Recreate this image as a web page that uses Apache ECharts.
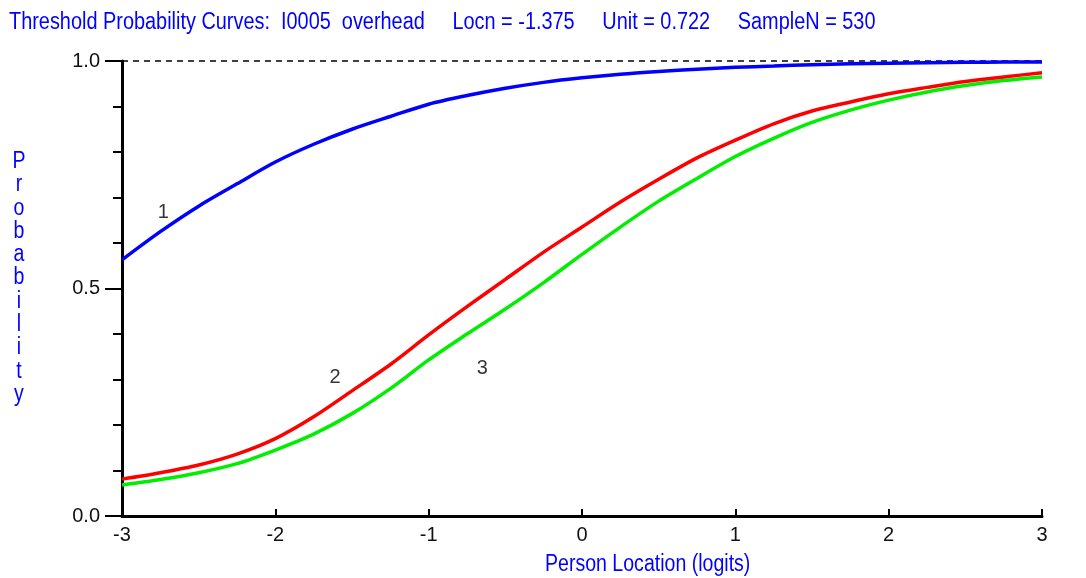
<!DOCTYPE html>
<html>
<head>
<meta charset="utf-8">
<script src="https://cdn.jsdelivr.net/npm/echarts@6/dist/echarts.min.js"></script>
<style>
html,body{margin:0;padding:0;background:#fff;}
#c{width:1086px;height:578px;}
</style>
</head>
<body>
<div id="c"></div>
<script>
// ---- data ----
var titleText = 'Threshold Probability Curves:  I0005  overhead     Locn = -1.375     Unit = 0.722     SampleN = 530';
var xLabel = 'Person Location (logits)';
var yLabel = 'Probability';
var locations = [-3,-2.75,-2.5,-2.25,-2,-1.75,-1.5,-1.25,-1,-0.75,-0.5,-0.25,0,0.25,0.5,0.75,1,1.25,1.5,1.75,2,2.25,2.5,2.75,3];
var curve1 = [0.563,0.625,0.681,0.730,0.778,0.817,0.850,0.878,0.905,0.924,0.940,0.953,0.963,0.971,0.977,0.982,0.986,0.989,0.992,0.994,0.995,0.996,0.997,0.998,0.998];
var curve2 = [0.081,0.095,0.112,0.136,0.170,0.218,0.275,0.333,0.398,0.460,0.520,0.580,0.635,0.690,0.740,0.787,0.826,0.862,0.890,0.910,0.928,0.942,0.955,0.965,0.974];
var curve3 = [0.068,0.080,0.095,0.115,0.145,0.180,0.225,0.280,0.343,0.400,0.455,0.513,0.575,0.635,0.692,0.742,0.790,0.830,0.865,0.892,0.914,0.932,0.946,0.957,0.965];
var curveNames = ['1','2','3'];
var curveLabelX = [-2.73,-1.61,-0.65];
var curveLabelY = [0.666,0.305,0.325];
var xTicks = [-3,-2,-1,0,1,2,3];

function pairs(xs, ys){ return xs.map(function(x,i){ return [x, ys[i]]; }); }

var FONT = '"Liberation Sans",Arial,sans-serif';
var BLUE = '#0000ff';

var chart = echarts.init(document.getElementById('c'), null, {renderer:'canvas'});
var curves = [curve1, curve2, curve3];
var colors = ['#0000ff','#ff0000','#00ee00'];

var series = curves.map(function(c, i){
  return {
    type:'line', name: curveNames[i], data: pairs(locations, c),
    showSymbol:false, smooth:0.3, z: 5 - i,
    lineStyle:{color:colors[i], width:3.5}, itemStyle:{color:colors[i]},
    animation:false
  };
});
series[0].markLine = {
  silent:true, symbol:'none', animation:false,
  label:{show:false},
  lineStyle:{color:'#000', type:[6,5], width:1.5},
  data:[{yAxis:1}]
};
series.push({
  type:'scatter', symbolSize:0, animation:false, silent:true,
  data: curveLabelX.map(function(x,i){ return {value:[x, curveLabelY[i]], name: curveNames[i]}; }),
  label:{show:true, position:'inside', formatter:function(p){return p.name;},
    color:'#000', fontSize:20, fontFamily:FONT}
});

chart.setOption({
  backgroundColor:'#fff',
  animation:false,
  grid:{left:122, right:44, top:61, bottom:62, containLabel:false},
  xAxis:{
    type:'value', min:xTicks[0], max:xTicks[xTicks.length-1], interval:1,
    axisLine:{show:true, onZero:false, lineStyle:{color:'#000', width:3}},
    axisTick:{show:true, inside:true, length:7, lineStyle:{color:'#000', width:2}},
    axisLabel:{color:'#111', fontSize:20, fontFamily:FONT, margin:9},
    splitLine:{show:false}
  },
  yAxis:{
    type:'value', min:0, max:1, interval:0.5,
    axisLine:{show:true, onZero:false, lineStyle:{color:'#000', width:3}},
    axisTick:{show:true, length:17, lineStyle:{color:'#000', width:2}},
    minorTick:{show:true, splitNumber:5, length:9, lineStyle:{color:'#000', width:2}},
    axisLabel:{color:'#111', fontSize:20, fontFamily:FONT, margin:22,
      formatter:function(v){ return v.toFixed(1); }},
    splitLine:{show:false}
  },
  graphic:[
    {type:'text', x:9, y:23, scaleX:0.865, silent:true,
     style:{text:titleText, fill:BLUE, font:'23px '+FONT, textVerticalAlign:'middle'}},
    {type:'text', x:19, y:150, scaleX:0.85, silent:true,
     style:{text: yLabel.split('').join('\n'), fill:BLUE, font:'23px '+FONT, lineHeight:23.3, textAlign:'center'}},
    {type:'text', x:545, y:565, scaleX:0.85, silent:true,
     style:{text:xLabel, fill:BLUE, font:'23px '+FONT, textVerticalAlign:'middle'}}
  ],
  series:series
});
</script>
</body>
</html>
